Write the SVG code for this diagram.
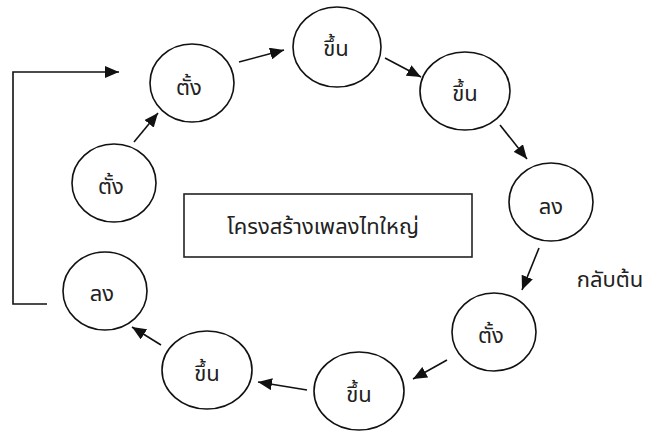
<svg xmlns="http://www.w3.org/2000/svg" width="647" height="432" viewBox="0 0 647 432">
  <style>
    .node ellipse { fill: #fff; stroke: #111; stroke-width: 1.6; }
    .lbl { font-family: "Noto Sans Thai", "Tahoma", "Noto Sans", "DejaVu Sans", sans-serif; font-size: 22px; fill: #222; text-anchor: middle; }
    .edge { stroke: #111; stroke-width: 1.6; fill: none; }
  </style>
  <defs>
    <marker id="arrow" markerUnits="userSpaceOnUse" markerWidth="16" markerHeight="12" refX="14" refY="6" orient="auto">
      <path d="M0,0 L14,6 L0,12 Z" fill="#111"/>
    </marker>
  </defs>
  <rect width="647" height="432" fill="#fff"/>

  <!-- centre title box -->
  <g id="title">
    <rect x="184" y="194" width="288" height="63" fill="#fff" stroke="#222" stroke-width="1.6"/>
    <text class="lbl" x="323" y="234" font-size="25">โครงสร้างเพลงไทใหญ่</text>
  </g>

  <!-- connectors -->
  <g id="connectors">
    <polyline class="edge" points="47,304 13,304 13,72 119,72" marker-end="url(#arrow)"/>
    <line class="edge" x1="134" y1="142" x2="158" y2="113" marker-end="url(#arrow)"/>
    <line class="edge" x1="239" y1="62" x2="284" y2="50" marker-end="url(#arrow)"/>
    <line class="edge" x1="385" y1="58" x2="421" y2="77" marker-end="url(#arrow)"/>
    <line class="edge" x1="500" y1="125" x2="527" y2="159" marker-end="url(#arrow)"/>
    <line class="edge" x1="539" y1="248" x2="522" y2="290" marker-end="url(#arrow)"/>
    <line class="edge" x1="447" y1="360" x2="413" y2="379" marker-end="url(#arrow)"/>
    <line class="edge" x1="307" y1="390" x2="258" y2="382" marker-end="url(#arrow)"/>
    <line class="edge" x1="161" y1="345" x2="132" y2="327" marker-end="url(#arrow)"/>
  </g>

  <text class="lbl" x="610" y="287" font-size="23">กลับต้น</text>

  <g id="n1" class="node"><ellipse cx="192" cy="83" rx="42" ry="39"/><text class="lbl" x="189" y="95">ตั้ง</text></g>
  <g id="n2" class="node"><ellipse cx="337" cy="47" rx="44" ry="40"/><text class="lbl" x="336" y="56">ขึ้น</text></g>
  <g id="n3" class="node"><ellipse cx="465" cy="91" rx="45" ry="39"/><text class="lbl" x="465" y="101">ขึ้น</text></g>
  <g id="n4" class="node"><ellipse cx="551" cy="202" rx="42" ry="39"/><text class="lbl" x="551" y="214">ลง</text></g>
  <g id="n5" class="node"><ellipse cx="494" cy="332" rx="42" ry="39"/><text class="lbl" x="491" y="343">ตั้ง</text></g>
  <g id="n6" class="node"><ellipse cx="359" cy="391" rx="45" ry="39"/><text class="lbl" x="359" y="402">ขึ้น</text></g>
  <g id="n7" class="node"><ellipse cx="207" cy="370" rx="45" ry="39"/><text class="lbl" x="207" y="381">ขึ้น</text></g>
  <g id="n8" class="node"><ellipse cx="105" cy="291" rx="42" ry="39"/><text class="lbl" x="102" y="301">ลง</text></g>
  <g id="n9" class="node"><ellipse cx="114" cy="183" rx="42" ry="39"/><text class="lbl" x="111" y="194">ตั้ง</text></g>
</svg>
